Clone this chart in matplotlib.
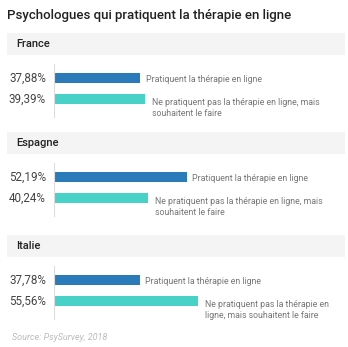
import matplotlib.pyplot as plt
from matplotlib.patches import Rectangle

plt.rcParams['font.family'] = ['Roboto', 'DejaVu Sans']

# data
countries = ['France', 'Espagne', 'Italie']
pratiquent = [37.88, 52.19, 37.78]
souhaitent = [39.39, 40.24, 55.56]
label_prat = 'Pratiquent la thérapie en ligne'
label_souh = [
    'Ne pratiquent pas la thérapie en ligne, mais\nsouhaitent le faire',
    'Ne pratiquent pas la thérapie en ligne, mais\nsouhaitent le faire',
    'Ne pratiquent pas la thérapie en\nligne, mais souhaitent le faire',
]
colors = ['#2b7bba', '#48d1c7']

W, H = 348, 347
fig = plt.figure(figsize=(W / 100, H / 100), dpi=100)
fig.patch.set_facecolor('white')


def fx(px):
    return px / W


def fy(py):
    # pixel from top -> figure fraction from bottom
    return 1 - py / H


fig.text(fx(7), fy(15), 'Psychologues qui pratiquent la thérapie en ligne',
         fontsize=9.5, fontweight='medium', color='#222222', va='center', ha='left')

band_tops = [33, 132, 235]
axis_tops = [64, 163, 266]
band_h = 22
axis_h = 53
x0_px, x1_px = 53.5, 345
xmin = 11.2
scale = 3.25  # px per unit
xmax = xmin + (x1_px - x0_px) / scale

for k, country in enumerate(countries):
    bt = band_tops[k]
    fig.add_artist(Rectangle((fx(7), fy(bt + band_h)), fx(338), band_h / H,
                             transform=fig.transFigure, facecolor='#f4f4f4',
                             edgecolor='none', zorder=0))
    fig.text(fx(16), fy(bt + band_h / 2), country, fontsize=8, fontweight='medium',
             color='#222222', va='center', ha='left')

    at = axis_tops[k]
    ax = fig.add_axes([fx(x0_px), fy(at + axis_h), fx(x1_px - x0_px), axis_h / H])
    ax.set_facecolor('none')
    vals = [pratiquent[k], souhaitent[k]]
    labs = [label_prat, label_souh[k]]
    bh = 0.476
    ax.barh([0, 1], vals, height=bh, color=colors, left=0)
    ax.set_xlim(xmin, xmax)
    ax.set_ylim(1.857, -0.667)
    for s in ['top', 'right', 'bottom']:
        ax.spines[s].set_visible(False)
    ax.spines['left'].set_color('#dddddd')
    ax.spines['left'].set_linewidth(0.8)
    ax.set_xticks([])
    ax.set_yticks([])
    for i, (v, lab) in enumerate(zip(vals, labs)):
        ax.annotate(f'{v:.2f}'.replace('.', ',') + '%', xy=(0, i),
                    xycoords=ax.get_yaxis_transform(), xytext=(-5.5, 0),
                    textcoords='offset points', ha='right', va='center',
                    fontsize=8.4, color='#444444')
        dy = -1.4 if i == 0 else -2.9
        dx = 4 if i == 0 else 5
        ax.annotate(lab, xy=(v, i - bh / 2), xytext=(dx, dy),
                    textcoords='offset points', ha='left', va='top',
                    fontsize=6.3, color='#777777', linespacing=1.3)

fig.text(fx(12), fy(337), 'Source: PsySurvey, 2018', fontsize=6.5, style='italic',
         color='#bbbbbb', va='center', ha='left')

fig.savefig('out.png', dpi=100)
